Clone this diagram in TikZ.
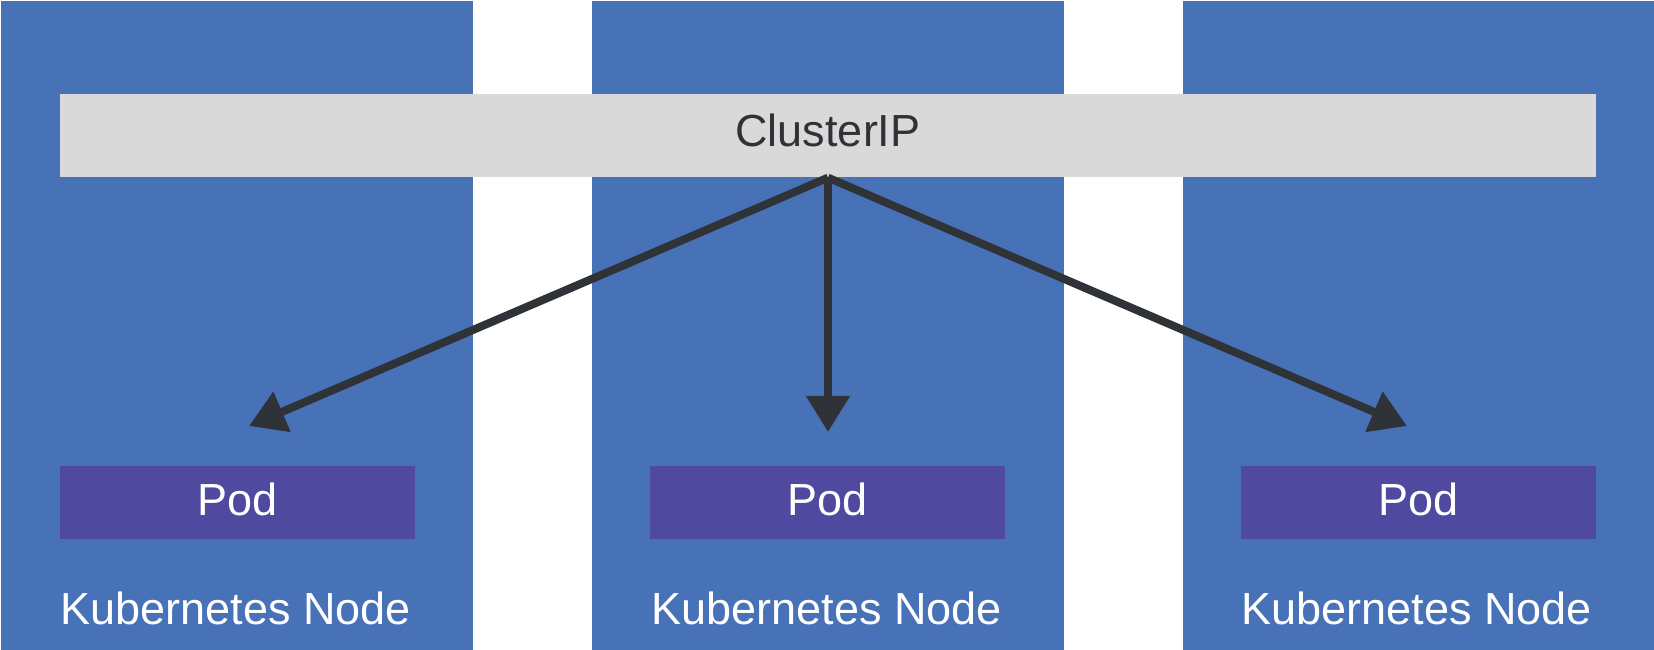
\documentclass[tikz,border=0pt]{standalone}
\usepackage{fontspec}
\setmainfont{Liberation Sans}
\usetikzlibrary{arrows.meta}
\usetikzlibrary{positioning}
\definecolor{nodeblue}{HTML}{4872B8}
\definecolor{podpurple}{HTML}{4F4A9F}
\definecolor{ipgray}{HTML}{D9D9D9}
\definecolor{linkgray}{HTML}{2F3237}

\begin{document}
\begin{tikzpicture}[font=\fontsize{12.8}{15}\selectfont,
	column/.style={fill=nodeblue, minimum width=4.72cm, minimum height=6.5cm, inner sep=0pt, anchor=north west},
	pod/.style={fill=podpurple, text=white, minimum width=3.55cm, minimum height=0.73cm, inner sep=0pt, text depth=0.07cm},
	nodelabel/.style={text=white, anchor=base, inner sep=0pt},
	link/.style={draw=linkgray, line width=0.08cm, -{Triangle[length=0.36cm, width=0.42cm]}}]
	\useasboundingbox (0,0) rectangle (16.54,-6.5);

	\node[column] (col1) at (0,0) {};
	\node[column] (col2) at (5.91,0) {};
	\node[column] (col3) at (11.82,0) {};

	\node[fill=ipgray, text=linkgray, minimum width=15.36cm, minimum height=0.83cm, inner sep=0pt, text depth=0.11cm] (cip) at (8.28,-1.355) {ClusterIP};

	\node[pod] (pod1) at (2.375,-5.025) {Pod};
	\node[pod] (pod2) at (8.275,-5.025) {Pod};
	\node[pod] (pod3) at (14.185,-5.025) {Pod};

	\node[nodelabel] (lab1) at (2.36,-6.24) {Kubernetes Node};
	\node[nodelabel] (lab2) at (8.27,-6.24) {Kubernetes Node};
	\node[nodelabel] (lab3) at (14.17,-6.24) {Kubernetes Node};

	\coordinate (tip1) at (2.49,-4.26);
	\coordinate (tip2) at (8.28,-4.32);
	\coordinate (tip3) at (14.07,-4.26);

	\draw[link] (cip.south) -- (tip1);
	\draw[link] (cip.south) -- (tip2);
	\draw[link] (cip.south) -- (tip3);
\end{tikzpicture}
\end{document}
